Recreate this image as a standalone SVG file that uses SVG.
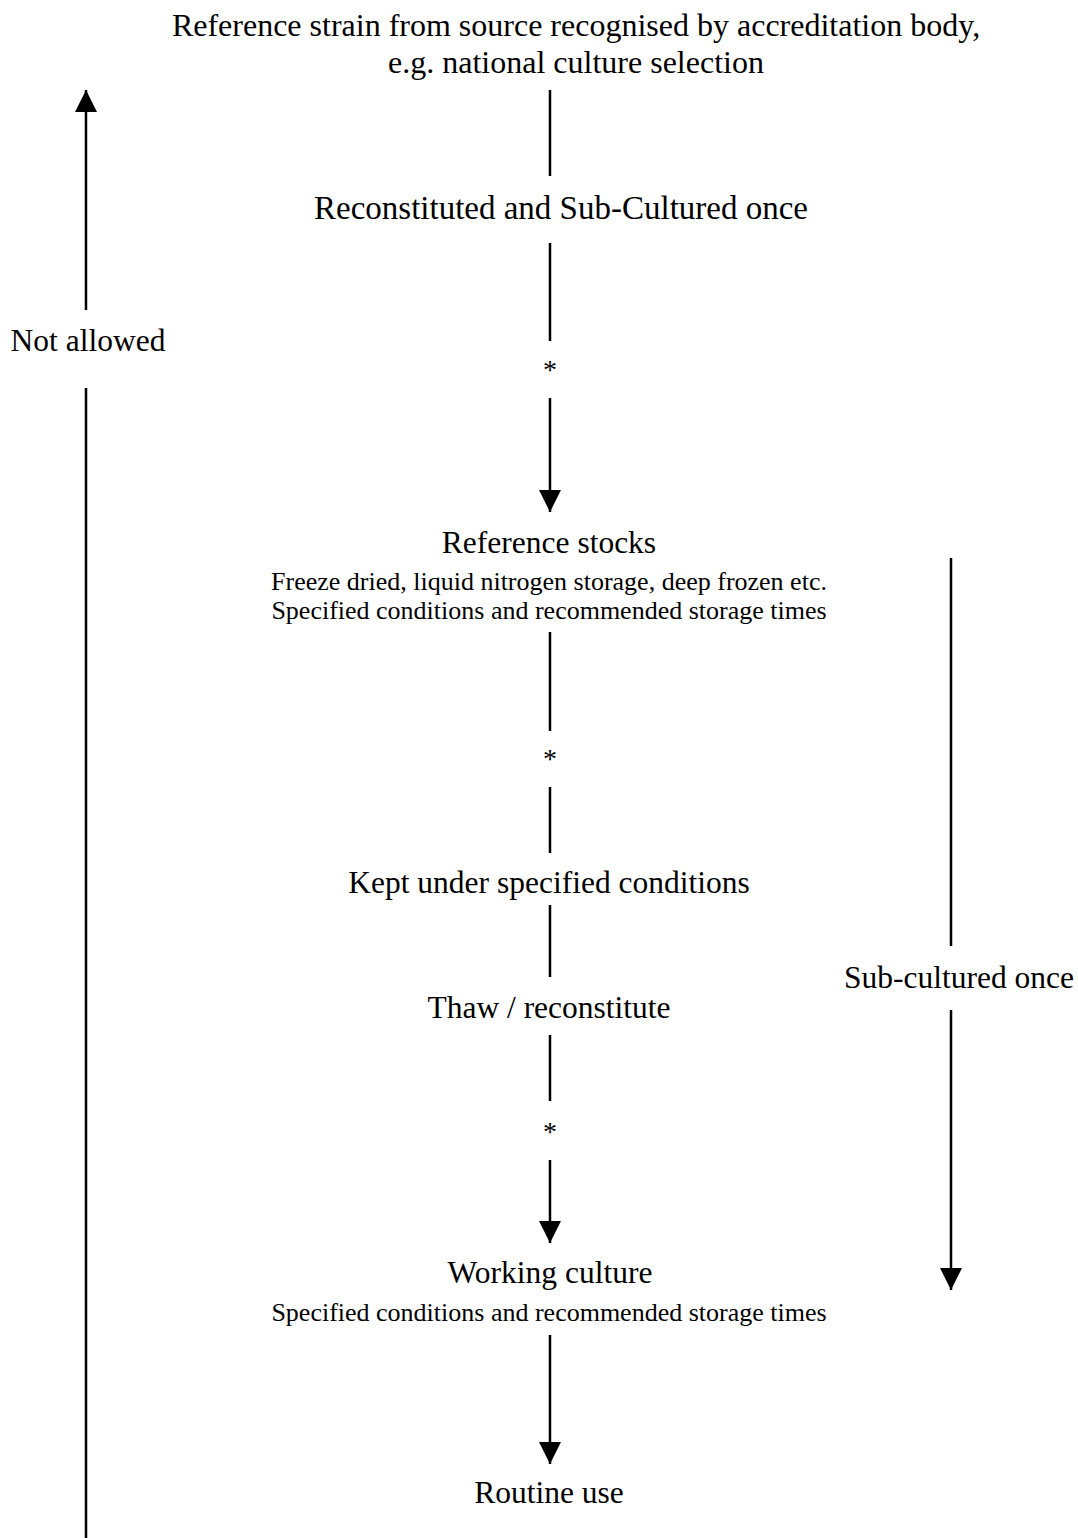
<svg xmlns="http://www.w3.org/2000/svg" width="1078" height="1538" viewBox="0 0 1078 1538">
<style>
text{font-family:"Liberation Serif","Times New Roman",serif;fill:#000;text-anchor:middle}
.t{font-size:32px}
.m{font-size:31.5px}
.r{font-size:33px}
.s{font-size:26px}
.st{font-size:28px}
.ln{stroke:#000;stroke-width:2.5;fill:none}
</style>
<defs>
<marker id="ah" markerUnits="userSpaceOnUse" viewBox="0 0 22 22" refX="22" refY="11" markerWidth="22" markerHeight="22" orient="auto">
<path d="M0,0 L22,11 L0,22 Z" fill="#000"/>
</marker>
</defs>
<rect width="1078" height="1538" fill="#fff"/>
<g id="connectors">
<line class="ln" x1="550" y1="90" x2="550" y2="176"/>
<line class="ln" x1="550" y1="243" x2="550" y2="341"/>
<line class="ln" x1="550" y1="398" x2="550" y2="512" marker-end="url(#ah)"/>
<line class="ln" x1="550" y1="632" x2="550" y2="731"/>
<line class="ln" x1="550" y1="787" x2="550" y2="853"/>
<line class="ln" x1="550" y1="905" x2="550" y2="977"/>
<line class="ln" x1="550" y1="1035" x2="550" y2="1101"/>
<line class="ln" x1="550" y1="1160" x2="550" y2="1243" marker-end="url(#ah)"/>
<line class="ln" x1="550" y1="1335" x2="550" y2="1464" marker-end="url(#ah)"/>
<line class="ln" x1="86" y1="1538" x2="86" y2="388"/>
<line class="ln" x1="86" y1="310" x2="86" y2="90" marker-end="url(#ah)"/>
<line class="ln" x1="951" y1="558" x2="951" y2="946"/>
<line class="ln" x1="951" y1="1010" x2="951" y2="1290" marker-end="url(#ah)"/>
</g>
<g id="source"><text class="t" x="576" y="36">Reference strain from source recognised by accreditation body,</text><text class="t" x="576" y="73">e.g. national culture selection</text></g>
<g id="reconstituted"><text class="r" x="561" y="219">Reconstituted and Sub-Cultured once</text></g>
<g id="star1"><text class="st" x="550" y="379">*</text></g>
<g id="reference-stocks"><text class="m" x="549" y="553">Reference stocks</text><text class="s" x="549" y="590">Freeze dried, liquid nitrogen storage, deep frozen etc.</text><text class="s" x="549" y="619">Specified conditions and recommended storage times</text></g>
<g id="star2"><text class="st" x="550" y="768">*</text></g>
<g id="kept"><text class="m" x="549" y="893">Kept under specified conditions</text></g>
<g id="thaw"><text class="m" x="549" y="1018">Thaw / reconstitute</text></g>
<g id="star3"><text class="st" x="550" y="1141">*</text></g>
<g id="working-culture"><text class="m" x="550" y="1283">Working culture</text><text class="s" x="549" y="1321">Specified conditions and recommended storage times</text></g>
<g id="routine-use"><text class="m" x="549" y="1503">Routine use</text></g>
<g id="not-allowed"><text class="m" x="88" y="351">Not allowed</text></g>
<g id="sub-cultured"><text class="m" x="959" y="988">Sub-cultured once</text></g>
</svg>
